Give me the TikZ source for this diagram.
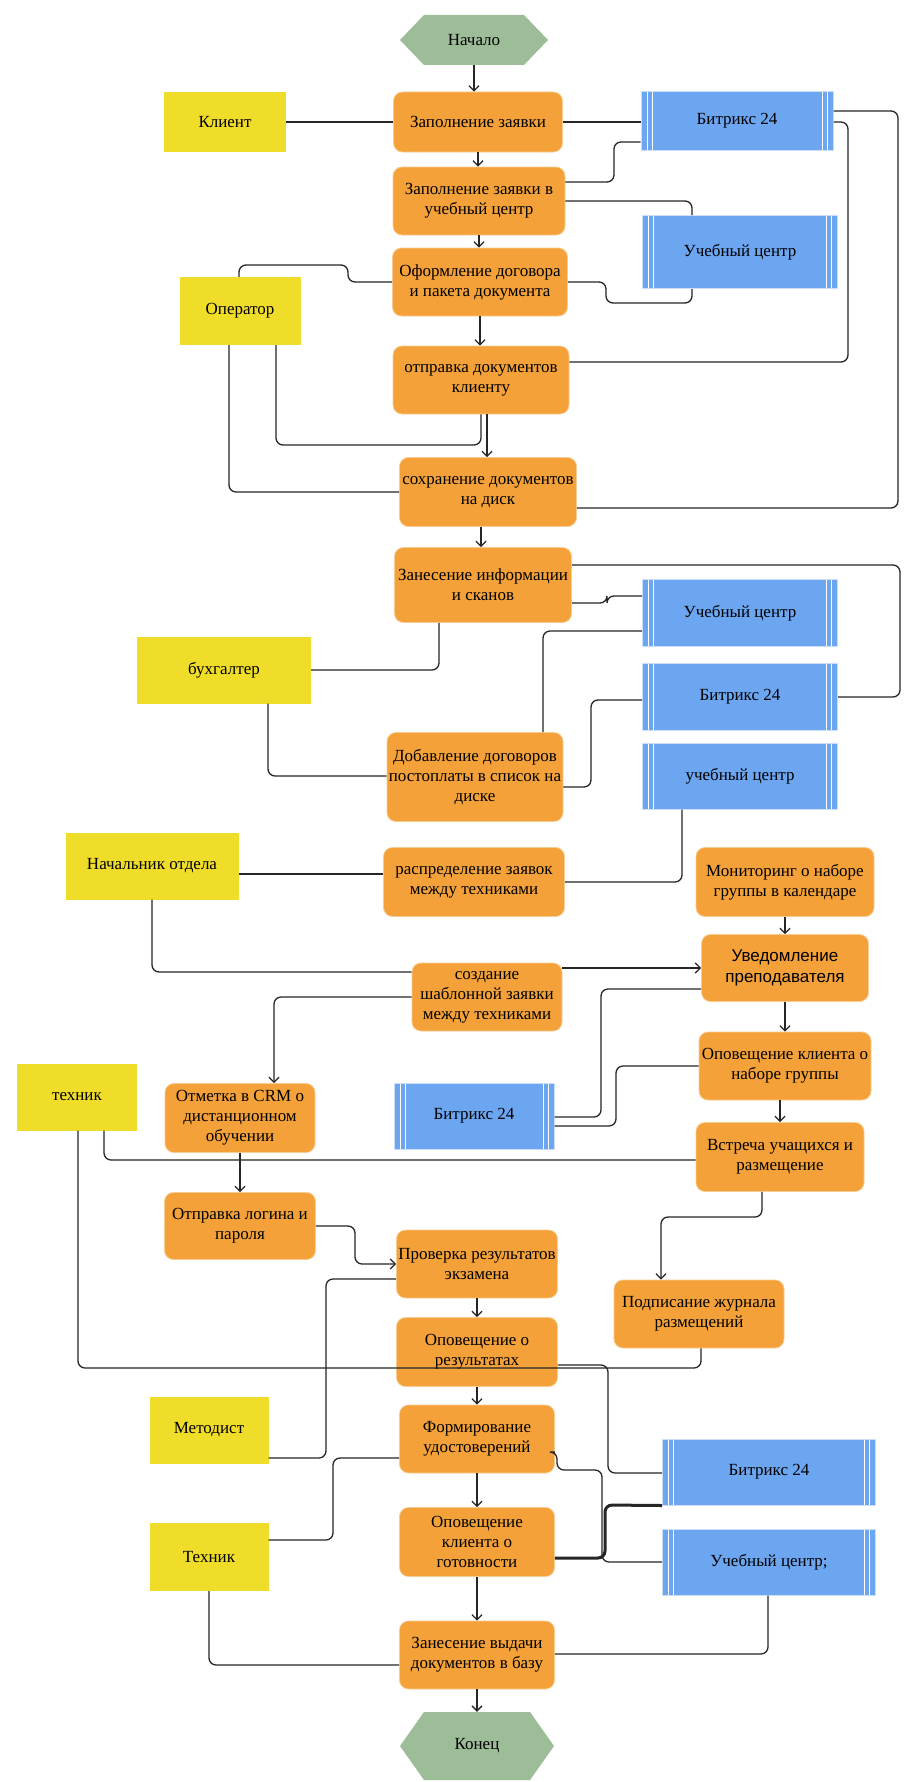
\documentclass[tikz,border=0pt]{standalone}
\usepackage{fontspec}
\setmainfont{Liberation Serif}
\newfontfamily\sansfont{Liberation Sans}
\usetikzlibrary{arrows.meta,calc}
\definecolor{actorange}{RGB}{243,161,56}
\definecolor{roleyellow}{RGB}{240,221,42}
\definecolor{sysblue}{RGB}{108,165,240}
\definecolor{termgreen}{RGB}{157,189,152}
\tikzset{
  sz/.style 2 args={minimum width=#1pt, minimum height=#2pt},
  act/.style={fill=actorange, draw=actorange!55!white, line width=0.8pt, rounded corners=9pt, align=center, inner sep=1pt},
  role/.style={fill=roleyellow, align=center, inner sep=1pt},
  sys/.style={fill=sysblue, draw=sysblue!35!white, line width=1pt, align=center, inner sep=1pt,
    path picture={\foreach \d in {6,11} {\draw[white, line width=1pt]
      ([xshift=\d pt]path picture bounding box.north west) -- ([xshift=\d pt]path picture bounding box.south west)
      ([xshift=-\d pt]path picture bounding box.north east) -- ([xshift=-\d pt]path picture bounding box.south east);}}},
  term/.style={fill=white, align=center, inner sep=1pt,
    path picture={\fill[termgreen] (path picture bounding box.west)
      -- ([xshift=24pt]path picture bounding box.north west) -- ([xshift=-24pt]path picture bounding box.north east)
      -- (path picture bounding box.east)
      -- ([xshift=-24pt]path picture bounding box.south east) -- ([xshift=24pt]path picture bounding box.south west) -- cycle;}},
  link/.style={rounded corners=7pt, line width=1.3pt, black!85},
  flow/.style={link, -{Straight Barb[length=5pt,width=10pt]}}
}
\begin{document}
\begin{tikzpicture}[x=1pt, y=-1pt, font=\fontsize{17}{20}\selectfont]
\fill[white] (0,0) rectangle (904,1782);
\useasboundingbox (0,0) rectangle (904,1782);

\node[term, sz={148}{50}] (nachalo) at (474,40) {Начало};
\node[role, sz={122}{60}] (klient) at (225,122) {Клиент};
\node[act, sz={169}{60}] (zapoln) at (478,122) {Заполнение заявки};
\node[sys, sz={192}{59}] (bitrixA) at (737,121) {Битрикс 24};
\node[act, sz={172}{68}] (zapuc) at (479,201) {Заполнение заявки в\\учебный центр};
\node[sys, sz={195}{73}] (uchA) at (740,252) {Учебный центр};
\node[act, sz={175}{68}] (oform) at (480,282) {Оформление договора\\и пакета документа};
\node[role, sz={121}{68}] (operator) at (240,311) {Оператор};
\node[act, sz={176}{68}] (otprav) at (481,380) {отправка документов\\клиенту};
\node[act, sz={177}{69}] (sohran) at (488,492) {сохранение документов\\на диск};
\node[act, sz={177}{75}] (zanes) at (483,585) {Занесение информации\\и сканов};
\node[sys, sz={195}{67}] (uchB) at (740,613) {Учебный центр};
\node[role, sz={174}{67}] (buhg) at (224,670) {бухгалтер};
\node[sys, sz={195}{67}] (bitrixB) at (740,697) {Битрикс 24};
\node[act, sz={176}{89}] (dobav) at (475,777) {Добавление договоров\\постоплаты в список на\\диске};
\node[sys, sz={195}{66}] (uchC) at (740,776) {учебный центр};
\node[role, sz={173}{67}] (nachotd) at (152,866) {Начальник отдела};
\node[act, sz={181}{69}] (raspr) at (474,882) {распределение заявок\\между техниками};
\node[act, sz={178}{69}] (monit) at (785,882) {Мониторинг о наборе\\группы в календаре};
\node[act, sz={167}{67}, font=\sansfont\fontsize{17}{21}\selectfont] (uved) at (785,968) {Уведомление\\преподавателя};
\node[act, sz={150}{68}] (sozd) at (487,997) {создание\\шаблонной заявки\\между техниками};
\node[act, sz={172}{68}] (opovgr) at (785,1066) {Оповещение клиента о\\наборе группы};
\node[role, sz={120}{67}] (tehnikA) at (77,1097) {техник};
\node[act, sz={150}{69}] (otmetka) at (240,1118) {Отметка в CRM о\\дистанционном\\обучении};
\node[sys, sz={160}{66}] (bitrixC) at (474,1116) {Битрикс 24};
\node[act, sz={168}{69}] (vstr) at (780,1157) {Встреча учащихся и\\размещение};
\node[act, sz={151}{67}] (otplog) at (240,1226) {Отправка логина и\\пароля};
\node[act, sz={161}{68}] (prov) at (477,1264) {Проверка результатов\\экзамена};
\node[act, sz={170}{68}] (podp) at (699,1314) {Подписание журнала\\размещений};
\node[act, sz={161}{69}] (opovrez) at (477,1352) {Оповещение о\\результатах};
\node[role, sz={119}{67}] (metod) at (209,1430) {Методист};
\node[act, sz={155}{68}] (form) at (477,1439) {Формирование\\удостоверений};
\node[sys, sz={213}{66}] (bitrixD) at (769,1472) {Битрикс 24};
\node[act, sz={155}{69}] (opovgot) at (477,1542) {Оповещение\\клиента о\\готовности};
\node[role, sz={119}{68}] (tehnikB) at (209,1557) {Техник};
\node[sys, sz={213}{66}] (uchD) at (769,1562) {Учебный центр;};
\node[act, sz={155}{68}] (zanvyd) at (477,1655) {Занесение выдачи\\документов в базу};
\node[term, sz={154}{68}] (konec) at (477,1746) {Конец};

\draw[flow] (nachalo.south) -- (nachalo.south |- zapoln.north);
\draw[link] (klient.east) -- (zapoln.west);
\draw[link] (zapoln.east) -- (zapoln.east -| bitrixA.west);
\draw[flow] (zapoln.south) -- (zapoln.south |- zapuc.north);
\draw[flow] (zapuc.south) -- (zapuc.south |- oform.north);
\draw[link] (zapuc.east |- 0,182) -- (614,182) -- (614,142) -- (bitrixA.west |- 0,142);
\draw[link] (zapuc.east |- 0,201) -- (692,201) -- (692,0 |- uchA.north);
\draw[link] (oform.west) -- (348,282) -- (348,265) -- (239,265) -- (239,0 |- operator.north);
\draw[link] (oform.east) -- (606,282) -- (606,303) -- (692,303) -- (692,0 |- uchA.south);
\draw[flow] (oform.south) -- (oform.south |- otprav.north);
\draw[link] (bitrixA.east |- 0,111) -- (898,111) -- (898,508) -- (sohran.east |- 0,508);
\draw[link] (bitrixA.east |- 0,122) -- (848,122) -- (848,362) -- (otprav.east |- 0,362);
\draw[link] (229,0 |- operator.south) -- (229,492) -- (sohran.west);
\draw[link] (276,0 |- operator.south) -- (276,445) -- (481,445) -- (481,0 |- otprav.south);
\draw[flow] (487,0 |- otprav.south) -- (487,0 |- sohran.north);
\draw[flow] (481,0 |- sohran.south) -- (481,0 |- zanes.north);
\draw[link] (zanes.east |- 0,565) -- (900,565) -- (900,697) -- (bitrixB.east);
\draw[link] (zanes.east |- 0,603) -- (607,603) -- (607,596) -- (uchB.west |- 0,596);
\draw[link] (buhg.east) -- (439,670) -- (439,0 |- zanes.south);
\draw[link] (268,0 |- buhg.south) -- (268,776) -- (dobav.west |- 0,776);
\draw[link] (543,0 |- dobav.north) -- (543,631) -- (uchB.west |- 0,631);
\draw[link] (dobav.east |- 0,787) -- (591,787) -- (591,700) -- (bitrixB.west |- 0,700);
\draw[link] (682,0 |- uchC.south) -- (682,882) -- (raspr.east);
\draw[link] (nachotd.east |- 0,874) -- (raspr.west |- 0,874);
\draw[flow] (monit.south) -- (monit.south |- uved.north);
\draw[link] (nachotd.south) -- (152,972) -- (sozd.west |- 0,972);
\draw[flow] (sozd.east |- 0,968) -- (uved.west |- 0,968);
\draw[link] (uved.west |- 0,989) -- (601,989) -- (601,1117) -- (bitrixC.east |- 0,1117);
\draw[flow] (sozd.west |- 0,997) -- (274,997) -- (274,0 |- otmetka.north);
\draw[flow] (uved.south) -- (uved.south |- opovgr.north);
\draw[link] (opovgr.west) -- (616,1066) -- (616,1126) -- (bitrixC.east |- 0,1126);
\draw[flow] (780,0 |- opovgr.south) -- (780,0 |- vstr.north);
\draw[link] (104,0 |- tehnikA.south) -- (104,1160) -- (vstr.west |- 0,1160);
\draw[link] (78,0 |- tehnikA.south) -- (78,1368) -- (701,1368) -- (701,0 |- podp.south);
\draw[flow] (otmetka.south) -- (otmetka.south |- otplog.north);
\draw[flow] (otplog.east) -- (355,1226) -- (355,1264) -- (prov.west);
\draw[link] (prov.west |- 0,1279) -- (326,1279) -- (326,1458) -- (metod.east |- 0,1458);
\draw[flow] (762,0 |- vstr.south) -- (762,1217) -- (661,1217) -- (661,0 |- podp.north);
\draw[flow] (prov.south) -- (prov.south |- opovrez.north);
\draw[link] (opovrez.east |- 0,1365) -- (608,1365) -- (608,1473) -- (bitrixD.west |- 0,1473);
\draw[flow] (opovrez.south) -- (opovrez.south |- form.north);
\draw[link] (form.east |- 0,1452) -- (557,1452) -- (557,1470) -- (602,1470) -- (602,1562) -- (uchD.west);
\draw[link] (tehnikB.east |- 0,1540) -- (333,1540) -- (333,1458) -- (form.west |- 0,1458);
\draw[flow] (form.south) -- (form.south |- opovgot.north);
\draw[link, line width=3pt] (opovgot.east |- 0,1558) -- (605,1558) -- (605,1505) -- (bitrixD.south west);
\draw[flow] (opovgot.south) -- (opovgot.south |- zanvyd.north);
\draw[link] (tehnikB.south) -- (209,1665) -- (zanvyd.west |- 0,1665);
\draw[link] (768,0 |- uchD.south) -- (768,1654) -- (zanvyd.east |- 0,1654);
\draw[flow] (zanvyd.south) -- (zanvyd.south |- konec.north);
\end{tikzpicture}
\end{document}
